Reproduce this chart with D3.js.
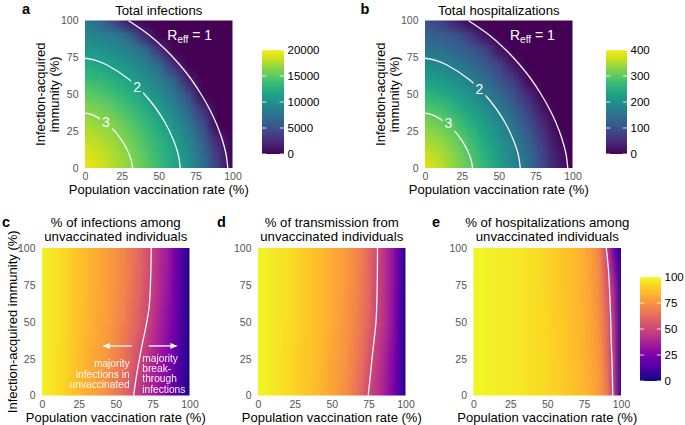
<!DOCTYPE html>
<html><head><meta charset="utf-8">
<script src="https://cdn.jsdelivr.net/npm/d3@7"></script>
<style>
body{margin:0;background:#fff;}
svg{font-family:"Liberation Sans",Arial,Helvetica,sans-serif;}
</style></head><body>
<svg id="chart" width="685" height="425"></svg>
<script>
// ---------------- data ----------------
const axisTicks = [0, 25, 50, 75, 100];
const vacc10 = [0,10,20,30,40,50,60,70,80,90,100];
const immun10 = [0,10,20,30,40,50,60,70,80,90,100];
// rows: immunity 0..100, cols: vaccination 0..100
const totalInfections = [
  [19400,18750,17640,16500,15130,13570,11980,10010,7220,3520,0],
  [18960,18310,17370,16230,14830,13300,11720,9690,6800,3000,0],
  [18100,17660,16800,15640,14240,12760,11150,8930,5910,1870,0],
  [17300,16860,15980,14830,13440,12020,10240,7870,4660,0,0],
  [16270,15830,14930,13780,12520,11050,9120,6610,2670,0,0],
  [15000,14570,13720,12680,11450,9800,7780,4730,0,0,0],
  [13600,13230,12470,11460,10070,8380,6270,1650,0,0,0],
  [12230,11860,11040,9970,8610,6900,2670,0,0,0,0],
  [10600,10270,9560,8550,7170,2970,0,0,0,0,0],
  [9200,8900,8200,6320,2380,0,0,0,0,0,0],
  [8000,6520,3890,720,0,0,0,0,0,0,0]
];
const totalHospitalizations = [
  [382,363,331,300,263,224,185,142,87,30,0],
  [369,350,324,292,255,217,179,135,79,23,0],
  [344,332,308,277,240,204,167,119,64,11,0],
  [322,310,286,255,220,186,147,99,45,0,0],
  [293,282,258,229,198,164,123,76,20,0,0],
  [260,249,227,202,173,137,97,46,0,0,0],
  [224,215,197,174,143,108,70,9,0,0,0],
  [191,183,164,141,113,81,20,0,0,0,0],
  [154,147,132,112,86,23,0,0,0,0,0],
  [125,119,105,71,16,0,0,0,0,0,0],
  [101,74,34,3,0,0,0,0,0,0,0]
];
const vacc5 = [0,5,10,15,20,25,30,35,40,45,50,55,60,65,70,75,80,85,90,95,100];
const immun25 = [0,25,50,75,100];
const pctInfectionsUnvacc = [
  [98,96,94,91,88,85,82,79,76,72,67,61,54,46,41,36,31,24,16,9,2],
  [98,96,94,92,89,86,83,80,78,74,70,65,59,52,45,39,33,27,18,10,2],
  [98,96,95,92,90,87,84,82,79,77,73,69,64,59,52,44,37,30,21,11,2],
  [98,96,95,92,90,87,85,82,80,77,74,71,66,61,55,47,40,33,23,12,2],
  [98,96,95,92,90,87,85,82,80,77,74,71,67,62,56,48,40,34,23,13,2]
];
const pctTransmissionUnvacc = [
  [99,98,96,95,93,91,89,87,85,82,79,76,72,67,60,50,44,37,28,15,3],
  [99,98,96,95,93,91,89,88,86,83,80,77,74,69,64,55,47,39,30,17,3],
  [99,98,96,95,94,92,90,88,86,84,81,78,75,71,66,60,50,43,33,18,3],
  [99,98,96,95,94,92,90,88,86,84,81,79,76,72,67,61,51,44,34,19,3],
  [99,98,96,95,94,92,90,88,86,84,81,79,76,72,68,61,52,44,34,19,3]
];
const pctHospUnvacc = [
  [99,99,98,98,97,97,96,95,94,93,92,91,89,88,86,84,81,77,69,47,5],
  [99,99,98,98,97,97,96,95,94,93,92,91,89,87,86,83,80,76,64,45,5],
  [99,99,98,98,97,97,96,95,94,93,92,90,89,87,85,83,79,74,62,43,5],
  [99,99,98,98,97,97,96,95,94,93,91,90,88,86,84,82,78,72,58,38,4],
  [99,99,98,98,97,97,96,95,94,93,91,90,88,86,84,81,77,70,50,22,4]
];
// contour lines [vaccination, immunity]
const reff1Line = [[29.3,100],[43.7,90],[54.9,80],[64.2,70],[72.1,60],[78.7,50],[84.4,40],[89.1,30],[92.8,20],[95.5,10],[96.8,0]];
const reff2Line = [[0,74.4],[7.2,73],[14.6,70],[29.9,60],[40.3,50],[48.4,40],[54.7,30],[59.5,20],[63.0,10],[64.6,0]];
const reff3Line = [[0,37.2],[3.6,36.5],[7.3,35],[14.9,30],[20.1,25],[24.1,20],[27.2,15],[29.6,10],[31.4,5],[32.2,0]];
const infMajorityLine = [[62.1,0],[64.3,15],[67.2,31],[70.5,47],[72.5,59],[73.3,70],[73.8,85],[74.1,100]];
const transMajorityLine = [[74.7,0],[76,12],[77.3,25],[78.5,36],[80,50],[80.6,65],[80.9,80],[81,100]];
const hospMajorityLine = [[94.4,0],[94,20],[93.4,36],[92.9,55],[92.3,70],[91.5,85],[90,100]];
const infBreaks = [0,5000,10000,15000,20000];
const hospBreaks = [0,100,200,300,400];
const pctBreaks = [0,25,50,75,100];

// ---------------- drawing ----------------
const svg = d3.select('#chart');
const defs = svg.append('defs');
const TICK_COL = '#555';

function heatmap(g, grid, xs, ys, color, x, y, clipId) {
  const canvas = document.createElement('canvas');
  canvas.width = xs.length; canvas.height = ys.length;
  const ctx = canvas.getContext('2d');
  const img = ctx.createImageData(xs.length, ys.length);
  ys.forEach((yv, r) => {
    const row = ys.length - 1 - r;
    xs.forEach((xv, c) => {
      const col = d3.rgb(color(grid[r][c]));
      const k = (row * xs.length + c) * 4;
      img.data[k] = col.r; img.data[k+1] = col.g; img.data[k+2] = col.b; img.data[k+3] = 255;
    });
  });
  ctx.putImageData(img, 0, 0);
  const dx = xs[1] - xs[0], dy = ys[1] - ys[0];
  const xa = x(xs[0] - dx/2), xb = x(xs[xs.length-1] + dx/2);
  const ya = y(ys[ys.length-1] + dy/2), yb = y(ys[0] - dy/2);
  g.append('image')
    .attr('href', canvas.toDataURL())
    .attr('x', xa).attr('y', ya).attr('width', xb - xa).attr('height', yb - ya)
    .attr('preserveAspectRatio', 'none')
    .attr('clip-path', `url(#${clipId})`);
}

function panel(cfg) {
  const x = d3.scaleLinear().domain([0,100]).range([cfg.x0, cfg.x1]);
  const y = d3.scaleLinear().domain([0,100]).range([cfg.yb, cfg.yt]);
  const clipId = 'clip-' + cfg.id;
  defs.append('clipPath').attr('id', clipId).append('rect')
    .attr('x', cfg.x0).attr('y', cfg.yt).attr('width', cfg.x1 - cfg.x0).attr('height', cfg.yb - cfg.yt);
  const g = svg.append('g');
  heatmap(g, cfg.grid, cfg.xs, cfg.ys, cfg.color, x, y, clipId);

  // axes
  const xAxis = g.append('g').attr('transform', `translate(0,${cfg.yb})`)
    .call(d3.axisBottom(x).tickValues(axisTicks).tickSize(0).tickPadding(5));
  const yAxis = g.append('g').attr('transform', `translate(${cfg.x0},0)`)
    .call(d3.axisLeft(y).tickValues(axisTicks).tickSize(0).tickPadding(6.5));
  [xAxis, yAxis].forEach(a => {
    a.select('.domain').remove();
    a.attr('font-family', null).attr('font-size', null);
    a.selectAll('text').attr('fill', TICK_COL).style('font-size', '10.5px');
  });

  // x-axis title
  g.append('text').attr('x', (cfg.x0 + cfg.x1)/2).attr('y', cfg.yb + 26)
    .attr('text-anchor', 'middle').style('font-size', '13px').attr('fill', '#000')
    .text('Population vaccination rate (%)');

  // title
  const t = g.append('text').attr('text-anchor', 'middle').style('font-size', '13.2px').attr('fill', '#000');
  cfg.title.forEach((line, i) => {
    t.append('tspan').attr('x', (cfg.x0 + cfg.x1)/2).attr('y', cfg.titleY + i*14).text(line);
  });

  // panel letter
  g.append('text').attr('x', cfg.letterX).attr('y', cfg.letterY)
    .style('font-size', '14.5px').style('font-weight', 'bold').attr('fill', '#000').text(cfg.letter);

  // contour lines
  const line = d3.line().x(d => x(d[0])).y(d => y(d[1])).curve(d3.curveCatmullRom);
  const cg = g.append('g').attr('clip-path', `url(#${clipId})`);
  const lg = cg.append('g');
  cfg.lines.forEach(l => {
    lg.append('path').attr('d', line(l)).attr('fill', 'none')
      .attr('stroke', '#fff').attr('stroke-width', 1.3).attr('opacity', 0.95);
  });
  return {x, y, g, lg, clipId};
}

function contourLabels(p, id, labels, reff) {
  const maskRects = [];
  labels.forEach(l => {
    const t = p.g.append('text').attr('x', p.x(l.v)).attr('y', p.y(l.i)).attr('dy', '0.36em')
      .attr('text-anchor', 'middle').style('font-size', '14px').attr('fill', '#fff').text(l.text);
    maskRects.push(t.node().getBBox());
  });
  const m = defs.append('mask').attr('id', 'mask-' + id).attr('maskUnits', 'userSpaceOnUse')
    .attr('x', 0).attr('y', 0).attr('width', 685).attr('height', 425);
  m.append('rect').attr('x', 0).attr('y', 0).attr('width', 685).attr('height', 425).attr('fill', '#fff');
  maskRects.forEach(b => m.append('rect').attr('x', b.x - 2).attr('y', b.y).attr('width', b.width + 4).attr('height', b.height).attr('fill', '#000'));
  p.lg.attr('mask', `url(#mask-${id})`);
  const rt = p.g.append('text').attr('x', p.x(reff.v)).attr('y', p.y(reff.i))
    .style('font-size', '14px').attr('fill', '#fff');
  rt.append('tspan').text('R');
  rt.append('tspan').style('font-size', '10px').attr('dy', 3.5).text('eff');
  rt.append('tspan').attr('dy', -3.5).text(' = 1');
}

function colorbar(id, interp, domain, breaks, bx, by, bw, bh) {
  const grad = defs.append('linearGradient').attr('id', id)
    .attr('x1', 0).attr('y1', 1).attr('x2', 0).attr('y2', 0);
  d3.range(0, 1.0001, 0.05).forEach(t => grad.append('stop').attr('offset', t).attr('stop-color', interp(t)));
  svg.append('rect').attr('x', bx).attr('y', by).attr('width', bw).attr('height', bh).attr('fill', `url(#${id})`);
  const s = d3.scaleLinear().domain(domain).range([by + bh, by]);
  const tg = svg.append('g');
  breaks.forEach(b => {
    tg.append('line').attr('x1', bx).attr('x2', bx + bw/5).attr('y1', s(b)).attr('y2', s(b))
      .attr('stroke', '#fff').attr('stroke-width', 1).attr('opacity', 0.8);
    tg.append('line').attr('x1', bx + bw*4/5).attr('x2', bx + bw).attr('y1', s(b)).attr('y2', s(b))
      .attr('stroke', '#fff').attr('stroke-width', 1).attr('opacity', 0.8);
  });
  const ax = svg.append('g').attr('transform', `translate(${bx + bw},0)`)
    .call(d3.axisRight(s).tickValues(breaks).tickSize(0).tickPadding(3.5).tickFormat(d3.format('d')));
  ax.select('.domain').remove();
  ax.attr('font-family', null).attr('font-size', null);
  ax.selectAll('text').attr('fill', '#000').style('font-size', '11.5px');
}

const viridisInf = d3.scaleSequential(d3.interpolateViridis).domain([0, 20000]);
const viridisHosp = d3.scaleSequential(d3.interpolateViridis).domain([0, 400]);
const plasmaPct = d3.scaleSequential(d3.interpolatePlasma).domain([0, 100]);

// Panel a
const pa = panel({id:'a', x0:85, x1:232.5, yt:20.5, yb:168, grid: totalInfections, xs: vacc10, ys: immun10,
  color: viridisInf, title: ['Total infections'], titleY: 14.5, letter: 'a', letterX: 22, letterY: 13.5,
  lines: [reff1Line, reff2Line, reff3Line]});
contourLabels(pa, 'a', [{v:35.3, i:54.9, text:'2'}, {v:14.2, i:31.3, text:'3'}], {v:55.8, i:86.8});
colorbar('cb-a', d3.interpolateViridis, [0,20000], infBreaks, 262, 50, 22, 104);

// Panel b
const pb = panel({id:'b', x0:425, x1:572.5, yt:20.5, yb:168, grid: totalHospitalizations, xs: vacc10, ys: immun10,
  color: viridisHosp, title: ['Total hospitalizations'], titleY: 14.5, letter: 'b', letterX: 360.5, letterY: 13.5,
  lines: [reff1Line, reff2Line, reff3Line]});
contourLabels(pb, 'b', [{v:36.9, i:53.7, text:'2'}, {v:15.9, i:30.2, text:'3'}], {v:57.6, i:86.8});
colorbar('cb-b', d3.interpolateViridis, [0,400], hospBreaks, 606, 50, 21, 104);

// y titles top row
[85, 425].forEach(x0 => {
  const cy = (20.5 + 168)/2;
  const t = svg.append('text').attr('transform', `translate(${x0 - 40.5},${cy}) rotate(-90)`)
    .attr('text-anchor', 'middle').style('font-size', '13px').attr('fill', '#000');
  t.append('tspan').attr('x', 0).attr('y', 0).text('Infection-acquired');
  t.append('tspan').attr('x', 0).attr('y', 14.7).text('immunity (%)');
});

// Panel c
const pc = panel({id:'c', x0:42, x1:189.5, yt:248, yb:395.5, grid: pctInfectionsUnvacc, xs: vacc5, ys: immun25,
  color: plasmaPct, title: ['% of infections among', 'unvaccinated individuals'], titleY: 227, letter: 'c', letterX: 2, letterY: 227,
  lines: [infMajorityLine]});
// Panel d
const pd = panel({id:'d', x0:258, x1:405.5, yt:248, yb:395.5, grid: pctTransmissionUnvacc, xs: vacc5, ys: immun25,
  color: plasmaPct, title: ['% of transmission from', 'unvaccinated individuals'], titleY: 227, letter: 'd', letterX: 217, letterY: 227,
  lines: [transMajorityLine]});
// Panel e
const pe = panel({id:'e', x0:473.5, x1:621, yt:248, yb:395.5, grid: pctHospUnvacc, xs: vacc5, ys: immun25,
  color: plasmaPct, title: ['% of hospitalizations among', 'unvaccinated individuals'], titleY: 227, letter: 'e', letterX: 432, letterY: 227,
  lines: [hospMajorityLine]});
colorbar('cb-e', d3.interpolatePlasma, [0,100], pctBreaks, 640, 277, 21, 104);

// y title bottom row
svg.append('text').attr('transform', `translate(16.5,${(248 + 395.5)/2}) rotate(-90)`)
  .attr('text-anchor', 'middle').style('font-size', '13px').attr('fill', '#000')
  .text('Infection-acquired immunity (%)');

// annotations in panel c
defs.append('marker').attr('id', 'arrowhead').attr('viewBox', '0 -4 8 8').attr('refX', 7).attr('refY', 0)
  .attr('markerWidth', 7).attr('markerHeight', 7).attr('markerUnits', 'userSpaceOnUse').attr('orient', 'auto')
  .append('path').attr('d', 'M0,-3.5L8,0L0,3.5Z').attr('fill', '#fff');
const arrowI = 33.6;
pc.g.append('line').attr('x1', pc.x(61)).attr('x2', pc.x(41.7)).attr('y1', pc.y(arrowI)).attr('y2', pc.y(arrowI))
  .attr('stroke', '#fff').attr('stroke-width', 1.3).attr('marker-end', 'url(#arrowhead)');
pc.g.append('line').attr('x1', pc.x(72.3)).attr('x2', pc.x(91.2)).attr('y1', pc.y(arrowI)).attr('y2', pc.y(arrowI))
  .attr('stroke', '#fff').attr('stroke-width', 1.3).attr('marker-end', 'url(#arrowhead)');
['majority', 'infections in', 'unvaccinated'].forEach((s, k) => {
  pc.g.append('text').attr('text-anchor', 'end').style('font-size', '10.2px').attr('fill', '#fff').attr('opacity', 0.95)
    .attr('x', pc.x(59.4)).attr('y', pc.y(19) + k*10.4).text(s);
});
['majority', 'break-', 'through', 'infections'].forEach((s, k) => {
  pc.g.append('text').attr('text-anchor', 'start').style('font-size', '10.2px').attr('fill', '#fff').attr('opacity', 0.95)
    .attr('x', pc.x(68)).attr('y', pc.y(22.8) + k*10.3).text(s);
});
</script>
</body></html>
